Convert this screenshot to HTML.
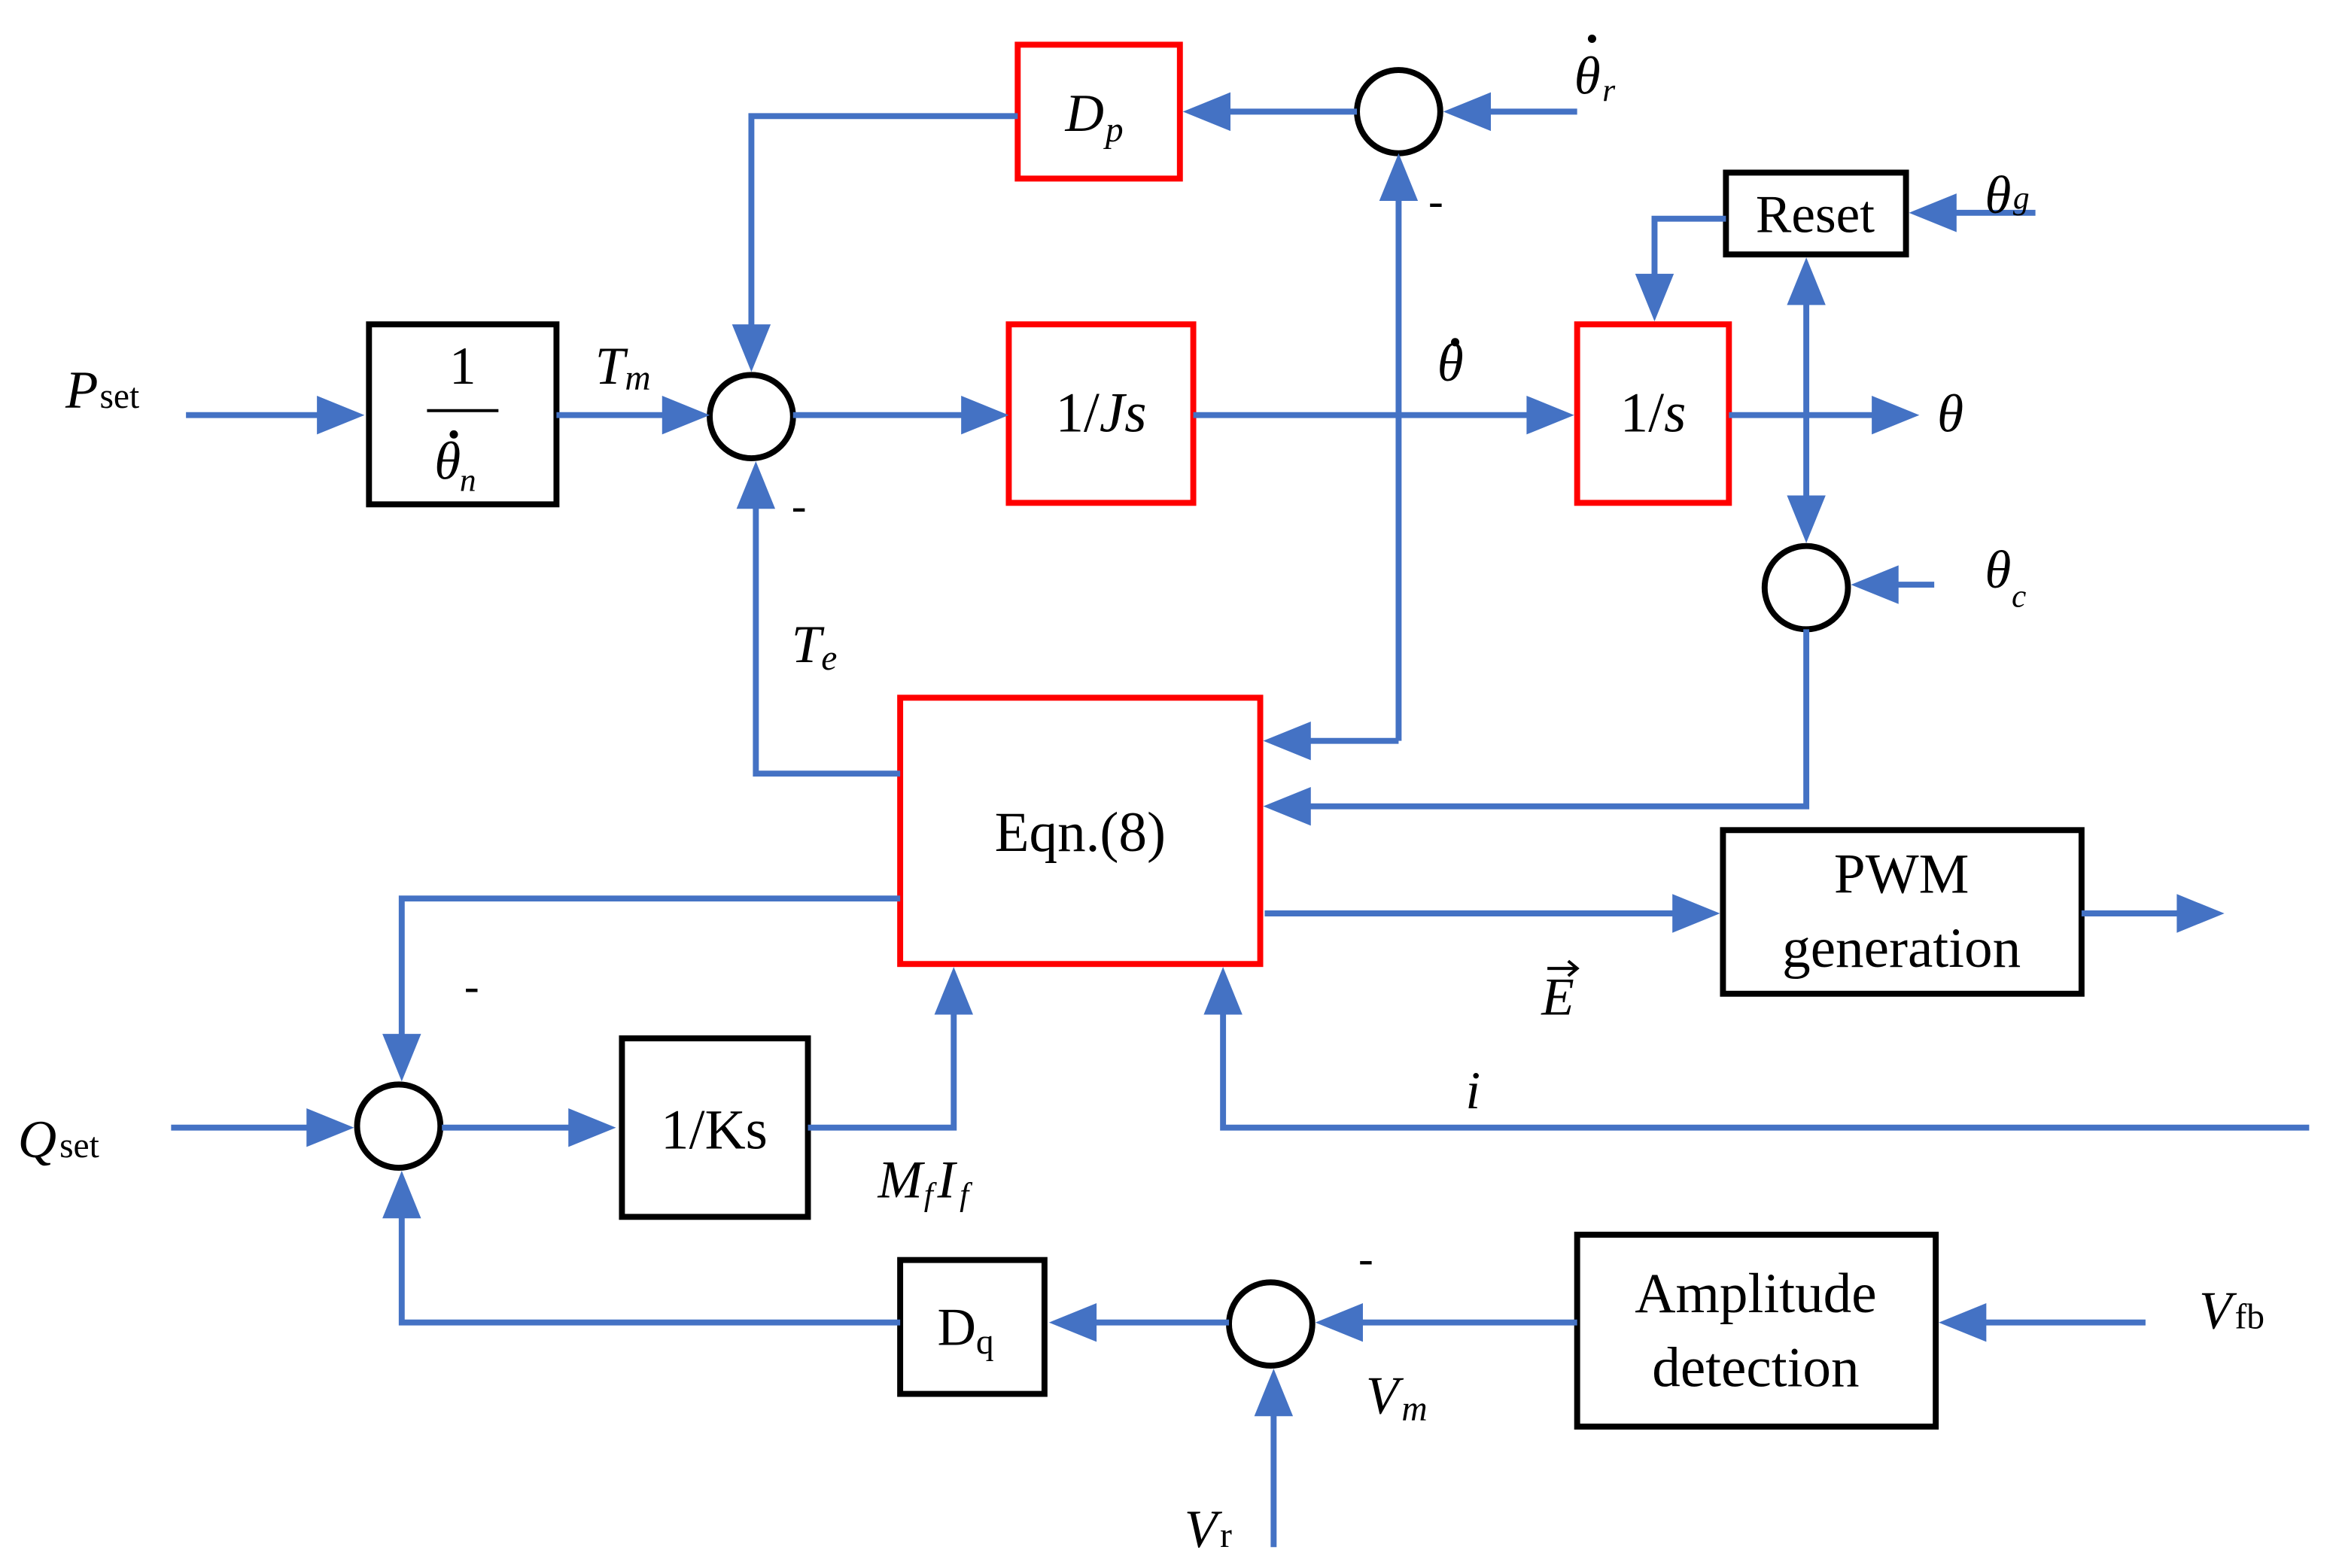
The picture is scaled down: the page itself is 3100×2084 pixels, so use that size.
<!DOCTYPE html>
<html><head><meta charset="utf-8"><style>
html,body{margin:0;padding:0;background:#fff}
svg{display:block}
text{font-family:"Liberation Serif",serif;fill:#000}
.i{font-style:italic}
</style></head><body>
<svg width="3100" height="2084" viewBox="0 0 1568 1054" xmlns="http://www.w3.org/2000/svg">
<g fill="none" stroke-width="4">
<rect x="248" y="218" width="126" height="121" stroke="#000"/>
<rect x="678" y="218" width="124" height="120" stroke="#f00"/>
<rect x="1060" y="218" width="102" height="120" stroke="#f00"/>
<rect x="1160" y="116" width="121" height="55" stroke="#000"/>
<rect x="684" y="30" width="109" height="90" stroke="#f00"/>
<rect x="605" y="469" width="242" height="179" stroke="#f00"/>
<rect x="1158" y="558" width="241" height="110" stroke="#000"/>
<rect x="418" y="698" width="125" height="120" stroke="#000"/>
<rect x="605" y="847" width="97" height="90" stroke="#000"/>
<rect x="1060" y="830" width="241" height="129" stroke="#000"/>
<circle cx="505" cy="280" r="28" stroke="#000"/>
<circle cx="940" cy="75" r="28" stroke="#000"/>
<circle cx="1214" cy="395" r="28" stroke="#000"/>
<circle cx="268" cy="757" r="28" stroke="#000"/>
<circle cx="854" cy="890" r="28" stroke="#000"/>
<g stroke="#4472C4">
<path d="M125 279H215"/>
<path d="M374 279H447"/>
<path d="M533 279H648"/>
<path d="M802 279H1030"/>
<path d="M1162 279H1262"/>
<path d="M684 78H505V220"/>
<path d="M912 75H823"/>
<path d="M1060 75H998"/>
<path d="M940 498V133"/>
<path d="M940 498H877"/>
<path d="M605 520H508V340"/>
<path d="M1160 147H1112V188"/>
<path d="M1368 143H1311"/>
<path d="M1214 201V337"/>
<path d="M1300 393H1272"/>
<path d="M1214 423V542H877"/>
<path d="M850 614H1128"/>
<path d="M1399 614H1467"/>
<path d="M1552 758H822V678"/>
<path d="M605 604H270V699"/>
<path d="M115 758H210"/>
<path d="M297 758H386"/>
<path d="M543 758H641V678"/>
<path d="M605 889H270V815"/>
<path d="M826 889H733"/>
<path d="M1060 889H912"/>
<path d="M1442 889H1331"/>
<path d="M856 1040V948"/>
</g>
</g>
<g fill="#4472C4">
<polygon points="245,279 213,266 213,292"/>
<polygon points="477,279 445,266 445,292"/>
<polygon points="678,279 646,266 646,292"/>
<polygon points="1058,279 1026,266 1026,292"/>
<polygon points="1290,279 1258,266 1258,292"/>
<polygon points="505,250 492,218 518,218"/>
<polygon points="795,75 827,62 827,88"/>
<polygon points="970,75 1002,62 1002,88"/>
<polygon points="940,103 927,135 953,135"/>
<polygon points="849,498 881,485 881,511"/>
<polygon points="508,310 495,342 521,342"/>
<polygon points="1112,216 1099,184 1125,184"/>
<polygon points="1283,143 1315,130 1315,156"/>
<polygon points="1214,173 1201,205 1227,205"/>
<polygon points="1214,365 1201,333 1227,333"/>
<polygon points="1244,393 1276,380 1276,406"/>
<polygon points="849,542 881,529 881,555"/>
<polygon points="1156,614 1124,601 1124,627"/>
<polygon points="1495,614 1463,601 1463,627"/>
<polygon points="822,650 809,682 835,682"/>
<polygon points="270,727 257,695 283,695"/>
<polygon points="238,758 206,745 206,771"/>
<polygon points="414,758 382,745 382,771"/>
<polygon points="641,650 628,682 654,682"/>
<polygon points="270,787 257,819 283,819"/>
<polygon points="705,889 737,876 737,902"/>
<polygon points="884,889 916,876 916,902"/>
<polygon points="1303,889 1335,876 1335,902"/>
<polygon points="856,920 843,952 869,952"/>
</g>
<!-- dots -->
<g fill="#000">
<circle cx="305" cy="292" r="2.8"/>
<circle cx="978" cy="230" r="2.8"/>
<circle cx="1070" cy="26" r="2.8"/>
</g>
<text x="311" y="258" font-size="36" text-anchor="middle">1</text>
<line x1="287" y1="276" x2="335" y2="276" stroke="#000" stroke-width="2"/>
<text x="292" y="322" font-size="36" class="i">θ</text><text x="309" y="330" font-size="22" class="i">n</text>
<text x="740" y="290" font-size="38" text-anchor="middle">1/<tspan class="i">Js</tspan></text>
<text x="1111" y="290" font-size="38" text-anchor="middle">1/<tspan class="i">s</tspan></text>
<text x="1220" y="156" font-size="36" text-anchor="middle">Reset</text>
<text x="716" y="88" font-size="36" class="i">D</text><text x="743" y="95" font-size="24" class="i">p</text>
<text x="726" y="572" font-size="38" text-anchor="middle">Eqn.(8)</text>
<text x="1278" y="600" font-size="38" text-anchor="middle">PWM</text>
<text x="1278" y="650" font-size="38" text-anchor="middle">generation</text>
<text x="480" y="772" font-size="38" text-anchor="middle">1/Ks</text>
<text x="630" y="904" font-size="36">D</text><text x="656" y="910" font-size="24">q</text>
<text x="1180" y="882" font-size="38" text-anchor="middle">Amplitude</text>
<text x="1180" y="932" font-size="38" text-anchor="middle">detection</text>
<text x="44" y="274" font-size="36" class="i">P</text><text x="67" y="274" font-size="24">set</text>
<text x="12" y="778" font-size="36" class="i">Q</text><text x="40" y="778" font-size="24">set</text>
<text x="400" y="258" font-size="36" class="i">T</text><text x="420" y="262" font-size="24" class="i">m</text>
<text x="966" y="256" font-size="36" class="i">θ</text>
<text x="1302" y="290" font-size="36" class="i">θ</text>
<text x="1058" y="63" font-size="36" class="i">θ</text><text x="1077" y="68" font-size="22" class="i">r</text>
<text x="1334" y="143" font-size="36" class="i">θ</text><text x="1353" y="140" font-size="22" class="i">g</text>
<text x="1334" y="395" font-size="36" class="i">θ</text><text x="1352" y="408" font-size="22" class="i">c</text>
<text x="960" y="145" font-size="30">-</text>
<text x="532" y="350" font-size="30">-</text>
<text x="312" y="673" font-size="30">-</text>
<text x="913" y="856" font-size="30">-</text>
<text x="532" y="445" font-size="36" class="i">T</text><text x="552" y="450" font-size="24" class="i">e</text>
<text x="1036" y="682" font-size="36" class="i">E</text>
<path d="M1040 651H1059M1054 646L1060 651L1054 656" stroke="#000" stroke-width="2" fill="none"/>
<text x="985" y="745" font-size="36" class="i">i</text>
<text x="590" y="805" font-size="36" class="i">M</text><text x="621" y="810" font-size="22" class="i">f</text><text x="630" y="805" font-size="36" class="i">I</text><text x="645" y="810" font-size="22" class="i">f</text>
<text x="918" y="950" font-size="36" class="i">V</text><text x="942" y="955" font-size="24" class="i">m</text>
<text x="1478" y="893" font-size="36" class="i">V</text><text x="1502" y="893" font-size="24">fb</text>
<text x="796" y="1040" font-size="36" class="i">V</text><text x="820" y="1040" font-size="24">r</text>
</svg>
</body></html>
